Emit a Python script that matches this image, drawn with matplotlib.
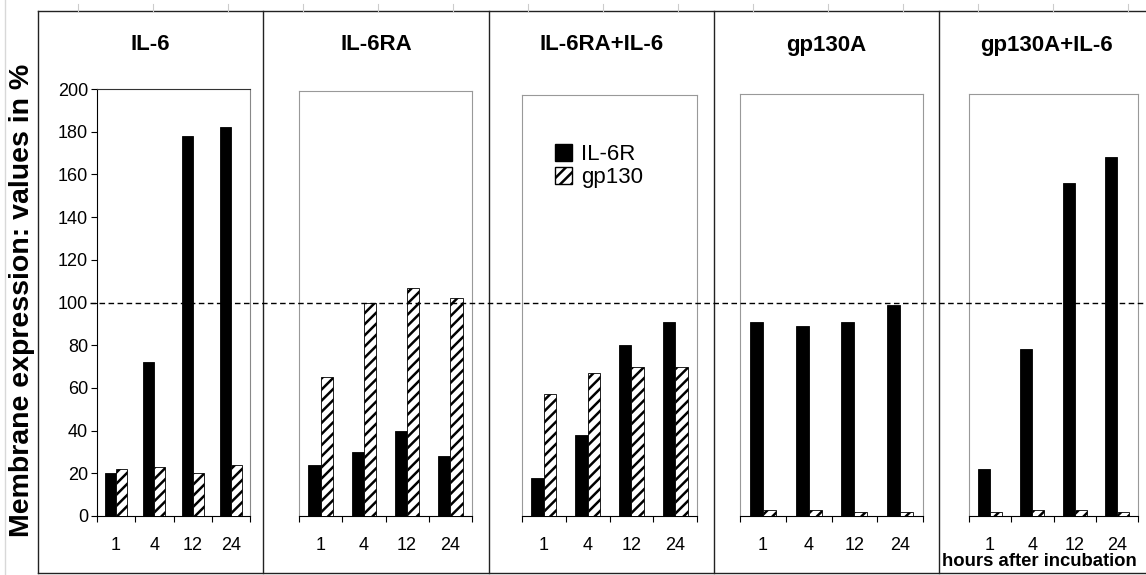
import numpy as np
import matplotlib
matplotlib.use('Agg')
import matplotlib.pyplot as plt
from matplotlib.lines import Line2D
from matplotlib.patches import Patch
from matplotlib.transforms import blended_transform_factory

plt.rcParams['font.family'] = ['Liberation Sans', 'DejaVu Sans']
plt.rcParams['hatch.linewidth'] = 1.8

# data
hours = ['1', '4', '12', '24']
panels = ['IL-6', 'IL-6RA', 'IL-6RA+IL-6', 'gp130A', 'gp130A+IL-6']
il6r = [
    [20, 72, 178, 182],
    [24, 30, 40, 28],
    [18, 38, 80, 91],
    [91, 89, 91, 99],
    [22, 78, 156, 168],
]
gp130 = [
    [22, 23, 20, 24],
    [65, 100, 107, 102],
    [57, 67, 70, 70],
    [3, 3, 2, 2],
    [2, 3, 3, 2],
]
control_level = 100
y_ticks = list(range(0, 201, 20))

W, H = 1146, 575
fig = plt.figure(figsize=(W / 100, H / 100), dpi=100)


def fx(px):
    return px / W


def fy(py):
    return 1 - py / H


# layout in pixels
boxes = [(97, 250, 89), (299, 472, 91), (522, 697, 95), (740, 923, 94), (969, 1138, 94)]
seps = [38, 263, 489, 714, 939, 1153]
base = 516
px_per_unit = (base - 89) / 200
bar_w = 0.285

axes = []
for i, (l, r, top) in enumerate(boxes):
    ax = fig.add_axes([fx(l), fy(base), (r - l) / W, (base - top) / H])
    x = np.arange(len(hours)) + 0.5
    ax.bar(x - bar_w / 2, il6r[i], bar_w, color='black', edgecolor='black', lw=0.6, zorder=3)
    ax.bar(x + bar_w / 2, gp130[i], bar_w, color='white', edgecolor='black', lw=0.6,
           hatch='///', zorder=3)
    ax.set_xlim(0, len(hours))
    ax.set_ylim(0, (base - top) / px_per_unit)

    ax.set_xticks(np.arange(len(hours) + 1))
    ax.set_xticklabels([])
    ax.set_xticks(x, minor=True)
    ax.set_xticklabels(hours, minor=True)
    ax.tick_params(axis='x', which='major', direction='out', length=4, width=0.8, color='black')
    ax.tick_params(axis='x', which='minor', length=0, pad=15, labelsize=13)
    ax.spines['bottom'].set_color('black')

    if i == 0:
        ax.set_yticks(y_ticks)
        ax.tick_params(axis='y', direction='out', length=4.5, width=0.8, labelsize=13, pad=2)
        ax.spines['left'].set_color('black')
        ax.spines['top'].set_color('#333333')
        ax.spines['right'].set_color('#888888')
    else:
        ax.set_yticks([])
        for s in ['left', 'top', 'right']:
            ax.spines[s].set_color('#999999')
    axes.append(ax)

    cx = (seps[i] + seps[i + 1]) / 2
    fig.text(fx(cx), fy(45), panels[i], ha='center', va='center',
             fontsize=16, fontweight='bold')

# dashed 100 % line across all panels
tr = blended_transform_factory(fig.transFigure, axes[0].transData)
fig.add_artist(Line2D([fx(90), 1], [control_level, control_level], transform=tr,
                      color='black', lw=1, ls=(0, (4, 2.5)), zorder=5))

# frame lines
frame = '#222222'
fig.add_artist(Line2D([fx(38), 1], [fy(11), fy(11)], color=frame, lw=1))
fig.add_artist(Line2D([fx(38), 1], [fy(573), fy(573)], color=frame, lw=1))
for s in seps[:-1]:
    fig.add_artist(Line2D([fx(s), fx(s)], [fy(11), fy(573)], color=frame, lw=1))
# faint leftovers of the source image
for k in range(15):
    xp = 78 + 75 * k
    fig.add_artist(Line2D([fx(xp), fx(xp)], [fy(4), fy(11)], color='#cccccc', lw=0.8))
fig.add_artist(Line2D([fx(5), fx(5)], [0, 1], color='#d8d8d8', lw=1))

handles = [Patch(facecolor='black', edgecolor='black', label='IL-6R'),
           Patch(facecolor='white', edgecolor='black', hatch='///', label='gp130')]
axes[2].legend(handles=handles, loc='upper left', bbox_to_anchor=(fx(539), fy(128)),
               bbox_transform=fig.transFigure, frameon=False, fontsize=16,
               handlelength=0.8, handleheight=0.8, handletextpad=0.4, labelspacing=0.1,
               borderpad=0.2)

fig.text(fx(22), fy(300), 'Membrane expression: values in %', rotation=90,
         ha='center', va='center', fontsize=20.5, fontweight='bold')
fig.text(fx(942), fy(562), 'hours after incubation', ha='left', va='center',
         fontsize=13.3, fontweight='bold')

fig.savefig('out.png', dpi=100)
